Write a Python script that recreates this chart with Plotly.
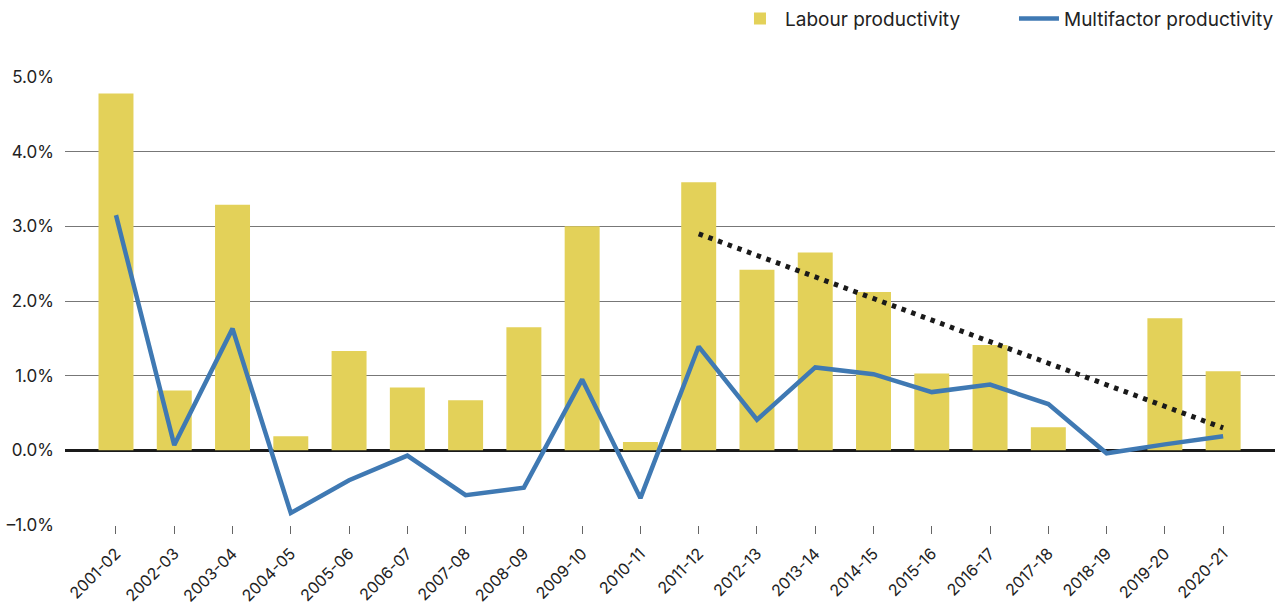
import plotly.graph_objects as go

years = ["2001-02", "2002-03", "2003-04", "2004-05", "2005-06", "2006-07", "2007-08",
         "2008-09", "2009-10", "2010-11", "2011-12", "2012-13", "2013-14", "2014-15",
         "2015-16", "2016-17", "2017-18", "2018-19", "2019-20", "2020-21"]
labour = [4.78, 0.80, 3.29, 0.19, 1.33, 0.84, 0.67, 1.65, 3.00, 0.11,
          3.59, 2.42, 2.65, 2.12, 1.03, 1.41, 0.31, 0.0, 1.77, 1.06]
multifactor = [3.15, 0.07, 1.63, -0.84, -0.40, -0.07, -0.60, -0.50, 0.95, -0.64,
               1.39, 0.41, 1.11, 1.02, 0.78, 0.88, 0.62, -0.04, 0.08, 0.19]
trend_x = ["2011-12", "2020-21"]
trend_y = [2.90, 0.30]
y_ticks = [-1, 0, 1, 2, 3, 4, 5]
y_labels = ["–1.0%", "0.0%", "1.0%", "2.0%", "3.0%", "4.0%", "5.0%"]

FONT = "Inter"

fig = go.Figure()
fig.add_trace(go.Bar(x=years, y=labour, name="Labour productivity",
                     marker=dict(color="#E3D159", line=dict(width=0)), width=0.6))
fig.add_trace(go.Scatter(x=years, y=multifactor, name="Multifactor productivity",
                         mode="lines", line=dict(color="#3F79B3", width=4.5)))
fig.add_trace(go.Scatter(x=trend_x, y=trend_y, mode="lines", showlegend=False,
                         line=dict(color="#1a1a1a", width=5, dash="4.5px,5.8px")))

fig.update_layout(
    width=1287, height=605,
    margin=dict(l=65, r=12, t=77, b=80, autoexpand=False),
    plot_bgcolor="white", paper_bgcolor="white",
    font=dict(family=FONT, color="#222222"),
    hovermode=False,
    legend=dict(orientation="h", x=0.5537, xanchor="left", xref="paper",
                y=0.969, yanchor="middle", yref="container",
                font=dict(size=19, family=FONT, color="#222"), itemwidth=40,
                traceorder="normal", entrywidthmode="pixels", entrywidth=224),
    xaxis=dict(type="category", range=[-0.875, 19.89], showgrid=False,
               showline=False, ticks="outside", ticklen=8, tickcolor="#666",
               tickwidth=1, tickangle=-45, tickfont=dict(size=16, family=FONT),
               ticklabelstandoff=4, automargin=False),
    yaxis=dict(range=[-1, 5], tickvals=y_ticks, ticktext=y_labels,
               showgrid=True, gridcolor="#777777", gridwidth=1,
               zeroline=True, zerolinecolor="#1a1a1a", zerolinewidth=2.5,
               showline=False, ticks="", ticklabelstandoff=10, automargin=False,
               tickfont=dict(size=17, family=FONT)),
)

fig.write_html("out.html", config={"displayModeBar": False, "staticPlot": True},
               post_script="document.body.style.margin='0';document.body.style.overflow='hidden';")
